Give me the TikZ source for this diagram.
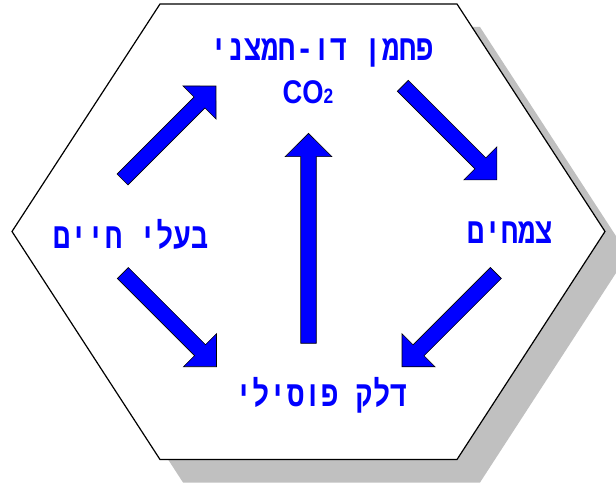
\documentclass[tikz,border=0pt]{standalone}
\usepackage{fontspec}
\usepackage{graphicx}
\TeXXeTstate=1
\newfontfamily\hebfont[Script=Hebrew]{Liberation Mono}
\newfontfamily\latfont{Liberation Sans}
\definecolor{shadowgray}{RGB}{192,192,192}
\definecolor{arrblue}{RGB}{0,0,255}
\newcommand\blockarr[3]{%
  \begin{scope}[shift={(#1)},rotate=#2]
    \draw[barrow] (0,-7.75) -- ({#3-23.3},-7.75) -- ({#3-23.3},-23.35) -- (#3,0)
      -- ({#3-23.3},23.35) -- ({#3-23.3},7.75) -- (0,7.75) -- cycle;
  \end{scope}}
\newcommand\heb[1]{\scalebox{1}[1.25]{\beginR #1\endR}}
\begin{document}
\begin{tikzpicture}[x=0.75pt,y=-0.75pt,
  barrow/.style={fill=arrblue,draw=black,line width=0.5pt,line join=miter},
  hebtext/.style={text=arrblue,font=\hebfont\bfseries\fontsize{21.5}{23}\selectfont,inner sep=0pt},
  hexshape/.style={draw=black,fill=white,line width=0.9pt,line join=miter}]
\useasboundingbox (0,0) rectangle (616,484);
% shadow
\fill[shadowgray] (183,27) -- (480,27) -- (628,254.5) -- (480,482.5) -- (183,482.5) -- (35,254.5) -- cycle;
% hexagon
\draw[hexshape] (160,4) -- (457,4) -- (605,231.5) -- (457,459.5) -- (160,459.5) -- (12,231.5) -- cycle;
% texts
\node[hebtext] (co2heb) at (322,53) {\heb{פחמן דו-חמצני}};
\node[text=arrblue,inner sep=0pt,font=\latfont\bfseries\fontsize{20.5}{22}\selectfont] (co2) at (308,92) {\scalebox{1}[1.2]{CO{\fontsize{13}{13}\selectfont 2}}};
\node[hebtext] (animals) at (131,234) {\heb{בעלי חיים}};
\node[hebtext] (plants) at (510,233) {\heb{צמחים}};
\node[hebtext] (fuel) at (321.5,395) {\heb{דלק פוסילי}};
% arrows
\coordinate (t1) at (122.5,179.5);
\coordinate (t2) at (402.8,85.8);
\coordinate (t3) at (495.8,273);
\coordinate (t4) at (122.8,273);
\coordinate (t5) at (308.5,343.3);
\blockarr{t1}{45}{132.2}
\blockarr{t2}{-45}{133}
\blockarr{t3}{-135}{132.6}
\blockarr{t4}{-45}{132.5}
\blockarr{t5}{90}{210}
\end{tikzpicture}
\end{document}
